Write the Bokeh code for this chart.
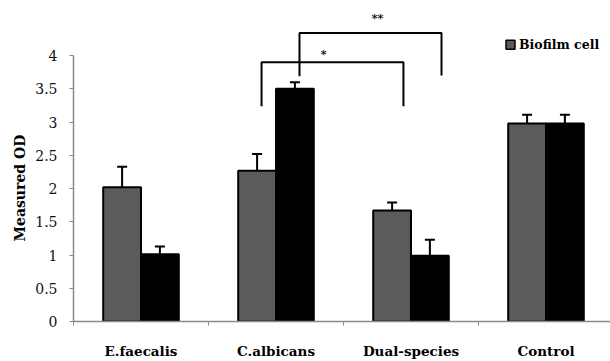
import math
from bokeh.plotting import figure
from bokeh.models import (ColumnDataSource, Range1d, FixedTicker, Whisker, TeeHead,
                          CustomJSTickFormatter, NumeralTickFormatter, Title)
from bokeh.core.properties import value
from bokeh.embed import file_html
from bokeh.resources import INLINE

# ---- data ----
categories = ["E.faecalis", "C.albicans", "Dual-species", "Control"]
biofilm = [2.02, 2.27, 1.67, 2.98]
biofilm_err = [0.31, 0.25, 0.12, 0.13]
second = [1.01, 3.50, 0.99, 2.98]
second_err = [0.12, 0.10, 0.24, 0.13]
y_ticks = [0, 0.5, 1, 1.5, 2, 2.5, 3, 3.5, 4]
legend_label = "Biofilm cell"
y_label = "Measured OD"

# significance brackets: [x_left, x_right, y_top, y_leg_left, y_leg_right, text]
bracket1 = [1.393, 2.444, 3.90, 3.24, 3.24, "*"]
bracket2 = [1.674, 2.726, 4.34, 3.69, 3.70, "**"]

GREY = "#5b5b5b"
SERIF = "DejaVu Serif"
off = 0.14
bw = 0.28

p = figure(width=610, height=361, output_backend="svg", toolbar_location=None,
           x_range=Range1d(0, 537 / 135), y_range=Range1d(0, 326 / 67.5),
           min_border_left=73, min_border_right=0, min_border_top=0, min_border_bottom=35)
p.outline_line_color = None
p.xgrid.visible = False
p.ygrid.visible = False
p.background_fill_color = "white"

centers = [i + 0.5 for i in range(len(categories))]
src_a = ColumnDataSource(dict(x=[c - off for c in centers], top=biofilm,
                              upper=[v + e for v, e in zip(biofilm, biofilm_err)]))
src_b = ColumnDataSource(dict(x=[c + off for c in centers], top=second,
                              upper=[v + e for v, e in zip(second, second_err)]))

p.vbar(x="x", top="top", width=bw, source=src_a, fill_color=GREY, line_color="black", line_width=2)
p.vbar(x="x", top="top", width=bw, source=src_b, fill_color="black", line_color="black", line_width=2)

for src in (src_a, src_b):
    w = Whisker(source=src, base="x", lower="top", upper="upper", dimension="height",
                line_width=2, line_color="black",
                upper_head=TeeHead(size=10, line_width=2, line_color="black"), lower_head=None)
    p.add_layout(w)

# brackets
for b in (bracket1, bracket2):
    xl, xr, yt, yl, yr, t = b
    p.line(x=[xl, xl, xr, xr], y=[yl, yt, yt, yr], line_color="black", line_width=2)

star_src = ColumnDataSource(dict(x=[1.852, 2.252], y=[4.02, 4.56], t=[bracket1[5], bracket2[5]]))
p.text(x="x", y="y", text="t", source=star_src, text_font=value(SERIF), text_font_style="bold",
       text_font_size="11px", text_align="center", text_baseline="middle", text_color="black")

# legend (manual)
p.scatter(x=[3.237], y=[4.163], marker="square", size=9, fill_color=GREY, line_color="black", line_width=1.5)
p.text(x=[3.30], y=[4.163], text=[legend_label], text_font=value(SERIF), text_font_style="bold",
       text_font_size="12.5px", text_align="left", text_baseline="middle", text_color="black")

# y axis
ya = p.yaxis[0]
ya.ticker = FixedTicker(ticks=y_ticks)
ya.formatter = NumeralTickFormatter(format="0[.]0")
ya.bounds = (0, 4)
ya.axis_line_color = "#8a8a8a"
ya.axis_line_width = 1.5
ya.major_tick_line_color = "#8a8a8a"
ya.major_tick_out = 4
ya.major_tick_in = 0
ya.minor_tick_line_color = None
ya.major_label_standoff = 12
ya.major_label_text_font = SERIF
ya.major_label_text_font_size = "14px"
ya.major_label_text_color = "#111111"

# y label as a left-side title (allows an offset along the axis)
ytitle = Title(text=y_label, align="left", offset=80, standoff=9,
               text_font=SERIF, text_font_style="bold", text_font_size="14px", text_color="black")
p.add_layout(ytitle, "left")

# x axis
xa = p.xaxis[0]
xa.ticker = FixedTicker(ticks=centers, minor_ticks=[0, 1, 2, 3])
xa.formatter = CustomJSTickFormatter(args=dict(labels=categories),
                                     code="return labels[Math.floor(tick)] || ''")
xa.axis_line_color = "#8a8a8a"
xa.axis_line_width = 1.5
xa.major_tick_out = 0
xa.major_tick_in = 0
xa.minor_tick_line_color = "#8a8a8a"
xa.minor_tick_out = 4
xa.minor_tick_in = 0
xa.major_label_standoff = 17
xa.major_label_text_font = SERIF
xa.major_label_text_font_style = "bold"
xa.major_label_text_font_size = "13.5px"
xa.major_label_text_color = "black"

open("out.html", "w").write(file_html(p, INLINE))
